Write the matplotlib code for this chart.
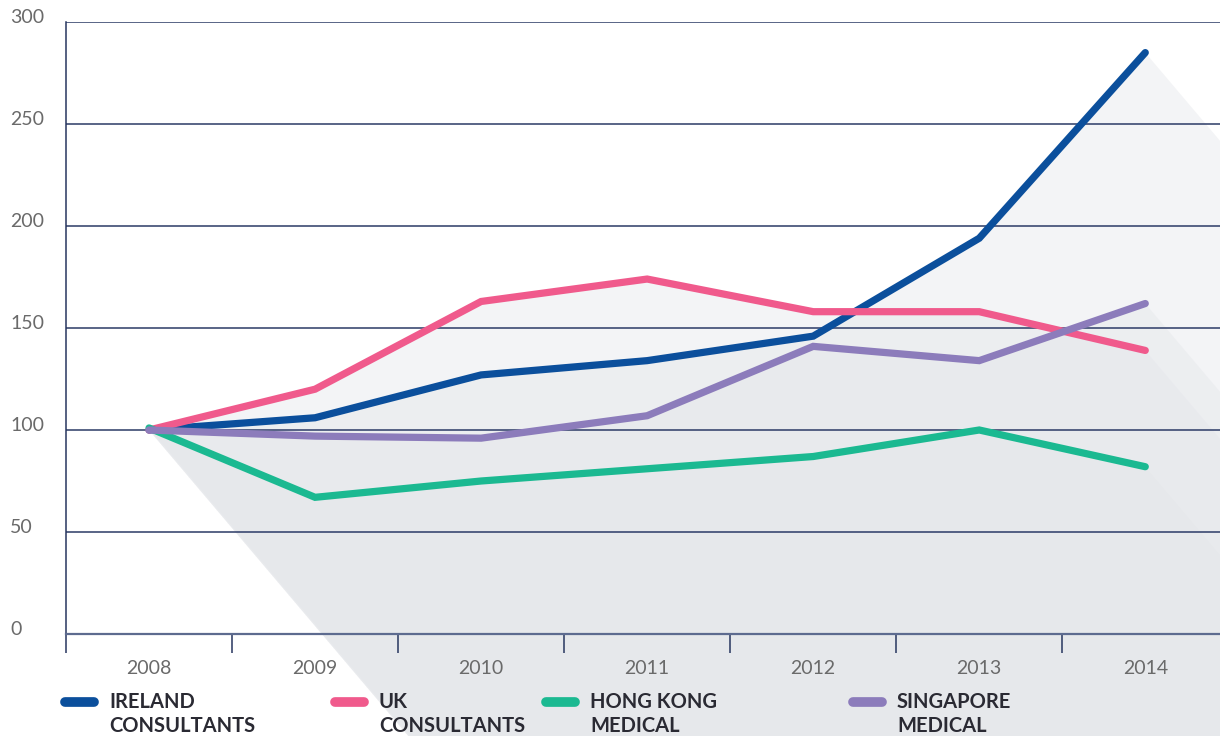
import matplotlib
matplotlib.use('Agg')
import matplotlib.pyplot as plt
import matplotlib.transforms as mtransforms
from matplotlib.path import Path
from matplotlib.patches import PathPatch
from matplotlib.lines import Line2D
import numpy as np

years = ['2008', '2009', '2010', '2011', '2012', '2013', '2014']
ireland = [100, 106, 127, 134, 146, 194, 285]
uk = [100, 120, 163, 174, 158, 158, 139]
hong_kong = [101, 67, 75, 81, 87, 100, 82]
singapore = [100, 97, 96, 107, 141, 134, 162]

series = [
    ('IRELAND\nCONSULTANTS', ireland, '#0b4f9c'),
    ('UK\nCONSULTANTS', uk, '#f05a8c'),
    ('HONG KONG\nMEDICAL', hong_kong, '#1bb991'),
    ('SINGAPORE\nMEDICAL', singapore, '#8c7cbb'),
]
y_ticks = [0, 50, 100, 150, 200, 250, 300]

W, H = 1220, 736
fig = plt.figure(figsize=(W / 100, H / 100), dpi=100, facecolor='white')
left_px, right_px, top_px, bottom_px = 66, 1220, 22, 634
ax = fig.add_axes([left_px / W, 1 - bottom_px / H,
                   (right_px - left_px) / W, (bottom_px - top_px) / H])
ax.set_xlim(-0.5, 6.45)
ax.set_ylim(0, 300)
ax.set_facecolor('none')

# long shadows, one compound path per series (union of swept segments)
px_x = (right_px - left_px) / 6.95
px_y = (bottom_px - top_px) / 300.0
L = 1400
vx, vy = L / px_x, -1.18 * L / px_y
x = np.arange(len(years))
for name, vals, col in series:
    verts, codes = [], []
    for i in range(len(x) - 1):
        p0 = (x[i], vals[i])
        p1 = (x[i + 1], vals[i + 1])
        quad = [p0, p1, (p1[0] + vx, p1[1] + vy), (p0[0] + vx, p0[1] + vy)]
        # same orientation for every piece so the nonzero fill is a plain union
        qs = np.array(quad) * np.array([px_x, px_y])
        area = 0.5 * np.sum(qs[:, 0] * np.roll(qs[:, 1], -1) - np.roll(qs[:, 0], -1) * qs[:, 1])
        if area < 0:
            quad = quad[::-1]
        verts += quad + [quad[0]]
        codes += [Path.MOVETO, Path.LINETO, Path.LINETO, Path.LINETO, Path.CLOSEPOLY]
    patch = PathPatch(Path(verts, codes), facecolor='#e4e6ea', edgecolor='none',
                      alpha=0.42, zorder=1, clip_on=False)
    ax.add_patch(patch)

# gridlines
for yv in y_ticks[1:]:
    ax.axhline(yv, color='#2b3a66', lw=1.1, zorder=2)

for name, vals, col in series:
    ax.plot(x, vals, color=col, lw=5.2, solid_capstyle='round',
            solid_joinstyle='miter', zorder=5)

for s in ['top', 'right']:
    ax.spines[s].set_visible(False)
ax.spines['left'].set_color('#27365f')
ax.spines['left'].set_linewidth(1.1)
ax.spines['bottom'].set_color('#5d6b8f')
ax.spines['bottom'].set_linewidth(1.6)
ax.spines['left'].set_zorder(3)
ax.spines['bottom'].set_zorder(3)

ax.set_xticks(np.arange(-0.5, 6.0, 1.0))
ax.set_xticklabels([])
ax.tick_params(axis='x', length=13.5, width=1.1, color='#27365f', direction='out')
ax.set_yticks([])

label_font = dict(family=['Lato', 'DejaVu Sans'], fontsize=14, color='#6a6a6a')
xform = ax.get_xaxis_transform()
for i, yr in enumerate(years):
    ax.text(i, -34 / (bottom_px - top_px), yr, ha='center', va='center',
            transform=xform, clip_on=False, **label_font)

ytrans = mtransforms.blended_transform_factory(fig.transFigure, ax.transData)
for yv in y_ticks:
    ax.text(10 / W, yv + 2, str(yv), ha='left', va='center', transform=ytrans,
            clip_on=False, **label_font)

# legend (kept just inside the bottom edge)
leg_x = [(60, 109), (330, 379), (541, 590), (848, 897)]
for (sx, tx), (name, vals, col) in zip(leg_x, series):
    fig.add_artist(Line2D([(sx + 5) / W, (sx + 34) / W], [1 - 702 / H, 1 - 702 / H],
                          transform=fig.transFigure, color=col, lw=7,
                          solid_capstyle='round'))
    fig.text(tx / W, 1 - 692 / H, name, ha='left', va='top',
             family=['Lato', 'DejaVu Sans'], fontsize=14.5, fontweight='bold',
             color='#2a2a33', linespacing=1.22)

fig.savefig('out.png', dpi=100, facecolor='white')
